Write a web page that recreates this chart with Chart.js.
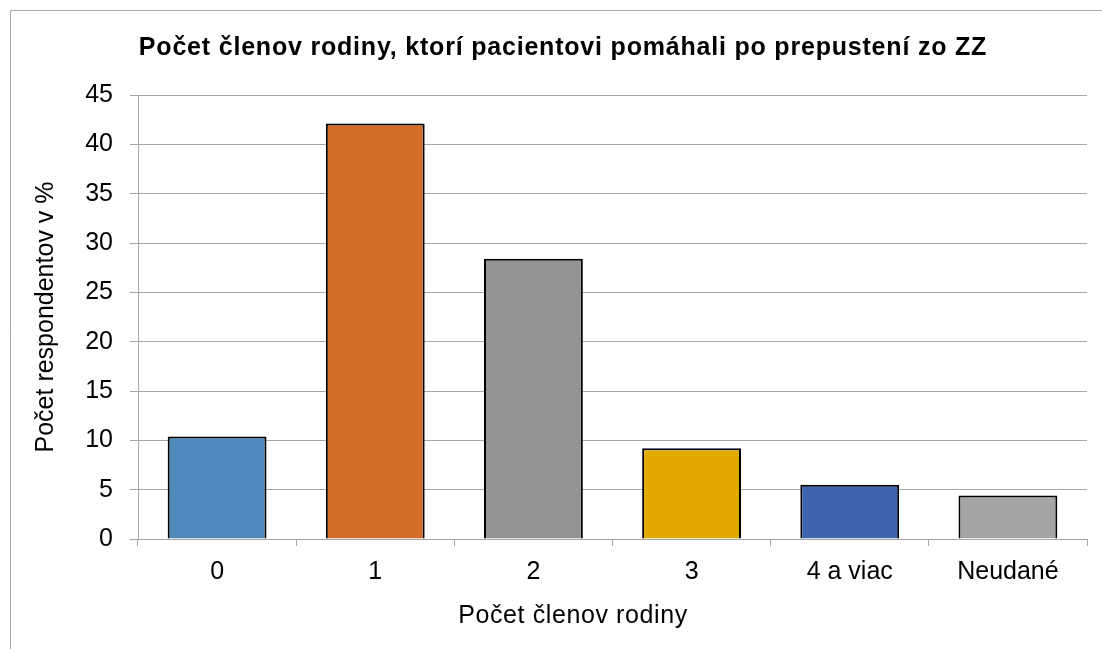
<!DOCTYPE html>
<html>
<head>
<meta charset="utf-8">
<script src="https://cdn.jsdelivr.net/npm/chart.js@4/dist/chart.umd.min.js"></script>
<style>
  html, body { margin: 0; padding: 0; background: #ffffff; overflow: hidden; }
  #wrap { position: relative; width: 1102px; height: 649px; }
</style>
</head>
<body>
<div id="wrap"><canvas id="c" width="1102" height="649"></canvas></div>
<script>
// ---- data ----
const chartTitle = 'Počet členov rodiny, ktorí pacientovi pomáhali po prepustení zo ZZ';
const xAxisTitle = 'Počet členov rodiny';
const yAxisTitle = 'Počet respondentov v %';
const categories = ['0', '1', '2', '3', '4 a viac', 'Neudané'];
const values = [10.4, 42.1, 28.4, 9.2, 5.5, 4.4];
const barColors = ['#4F88BB', '#D36F2B', '#939393', '#E2AA00', '#3E64AD', '#A5A5A5'];
const yMin = 0, yMax = 45, yStep = 5;

const FONT = "'Liberation Sans', Arial, sans-serif";

const decor = {
  id: 'decor',
  beforeDraw(chart) {
    const ctx = chart.ctx;
    ctx.save();
    ctx.fillStyle = '#ffffff';
    ctx.fillRect(0, 0, chart.width, chart.height);
    ctx.strokeStyle = '#a6a6a6';
    ctx.lineWidth = 1;
    ctx.beginPath();
    ctx.moveTo(10.5, chart.height);
    ctx.lineTo(10.5, 10.5);
    ctx.lineTo(chart.width, 10.5);
    ctx.stroke();
    ctx.restore();
  },
  afterDraw(chart) {
    const ctx = chart.ctx;
    ctx.save();
    ctx.fillStyle = '#000000';
    ctx.textAlign = 'center';
    ctx.textBaseline = 'alphabetic';
    ctx.font = "bold 25px " + FONT;
    ctx.letterSpacing = '0.8px';
    ctx.fillText(chartTitle, 563, 55);
    ctx.font = "25px " + FONT;
    ctx.letterSpacing = '0.6px';
    ctx.fillText(xAxisTitle, 573, 623);
    ctx.restore();
  }
};

new Chart(document.getElementById('c'), {
  type: 'bar',
  data: {
    labels: categories,
    datasets: [{
      data: values,
      backgroundColor: barColors,
      borderColor: '#000000',
      borderWidth: 2,
      barPercentage: 0.625,
      categoryPercentage: 1.0
    }]
  },
  options: {
    responsive: false,
    animation: false,
    devicePixelRatio: 1,
    layout: { padding: { top: 95, right: 15, left: 0, bottom: 0 } },
    plugins: {
      legend: { display: false },
      title: { display: false },
      tooltip: { enabled: false }
    },
    scales: {
      x: {
        afterFit(scale) { scale.height = 110; },
        grid: {
          display: true,
          offset: true,
          drawOnChartArea: false,
          drawTicks: true,
          tickLength: 7,
          color: '#a6a6a6',
          lineWidth: 1
        },
        border: { display: true, color: '#a6a6a6', width: 1 },
        ticks: {
          color: '#000000',
          font: { family: FONT, size: 25 },
          padding: 11,
          maxRotation: 0,
          autoSkip: false
        }
      },
      y: {
        min: yMin,
        max: yMax,
        afterFit(scale) { scale.width = 138; },
        grid: {
          color: '#a6a6a6',
          lineWidth: 1,
          drawTicks: true,
          tickLength: 8
        },
        border: { display: true, color: '#a6a6a6', width: 1 },
        ticks: {
          stepSize: yStep,
          color: '#000000',
          font: { family: FONT, size: 25 },
          padding: 17
        },
        title: {
          display: true,
          text: yAxisTitle,
          color: '#000000',
          font: { family: FONT, size: 25 },
          padding: { top: 31, bottom: 0 }
        }
      }
    }
  },
  plugins: [decor]
});
</script>
</body>
</html>
